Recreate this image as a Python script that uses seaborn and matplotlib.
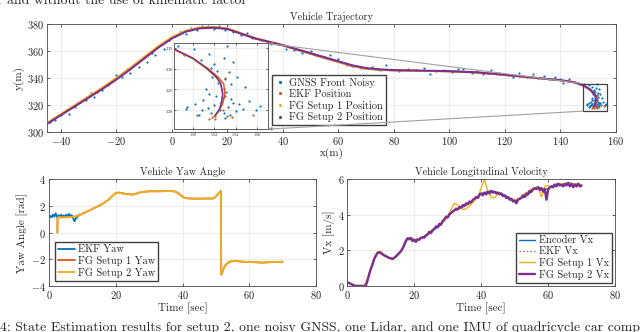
import matplotlib
matplotlib.use("Agg")
import matplotlib.pyplot as plt
import seaborn as sns
from matplotlib.patches import Rectangle, ConnectionPatch
from matplotlib.lines import Line2D

# ---- data ----
# trajectory (x, y) in metres
fg2_x = [-45, -40, -35, -30, -25, -20, -15, -10, -5, 0, 5, 10, 15, 20, 25, 30, 35, 40, 45,
         50, 55, 60, 65, 70, 75, 80, 90, 100, 110, 120, 130, 140, 145, 148.3, 150, 151.3,
         152.2, 152.6, 152.8, 152.7, 152.5, 152.1]
fg2_y = [306, 312.5, 319, 325.5, 332, 339, 346.5, 354.5, 362.5, 369.5, 374.5, 377, 377.5,
         376.5, 373, 369.5, 367, 364.5, 361.5, 358.5, 355.5, 352.5, 349.5, 347.5, 346.5, 346,
         345.6, 345.2, 344.3, 342.5, 340.5, 338.5, 337, 334.6, 332.5, 330.1, 328, 326.5, 324,
         322, 320.3, 318.8]
fg1_y = [306.8, 313.4, 320, 326.6, 333.2, 340.3, 347.8, 355.8, 363.7, 370.5, 375.4, 377.8,
         378.1, 377, 373.4, 369.8, 367.2, 364.6, 361.5, 358.4, 355.3, 352.2, 349.1, 347.1,
         346.2, 345.8, 345.4, 345.1, 344.2, 342.4, 340.4, 338.4, 336.9, 334.5, 332.3, 329.9,
         327.8, 326.3, 323.8, 321.8, 320.1, 318.6]
ekf_x = [-45, -40, -35, -30, -25, -20, -15, -10, -5, 0, 5, 10, 15, 20, 25, 30, 35, 40, 45,
         50, 55, 60, 65, 70, 75, 80, 90, 100, 110, 120, 130, 140, 145, 148.3, 150, 151.4,
         152.4, 152.9, 153.0, 152.8, 152.4, 151.8]
ekf_y = [306.3, 312.9, 319.4, 325.9, 332.5, 339.6, 347.1, 355.1, 363.1, 370.1, 375.0, 377.4,
         377.8, 376.7, 373.1, 369.4, 366.8, 364.2, 361.1, 358.0, 354.9, 351.9, 348.9, 346.9,
         346.1, 345.7, 345.4, 345.0, 344.1, 342.3, 340.3, 338.3, 336.8, 334.5, 332.4, 330.0,
         327.9, 326.3, 323.8, 321.6, 319.6, 318.1]
ekf_pts_x = [153.2, 153.7, 152.1, 151.5, 155.6, 152.8, 153.0, 152.9, 153.0]
ekf_pts_y = [318.6, 318.3, 318.0, 317.9, 319.0, 320.0, 327.8, 325.0, 323.5]

gnss_x = [-44, -42, -40, -38, -37, -35, -33, -31, -29, -28, -27, -25, -23, -21, -20, -18,
          -16, -15, -13, -12, -10, -9, -7, -6, -4, -3, -1, 1, 3, 5, 7, 9, 11, 13, 15, 17, 19,
          22, 25, 27, 29, 32, 35, 38, 41, 44, 47, 50, 52, 55, 57, 60, 63, 65, 68, 72, 75, 77,
          82, 85, 88, 91, 93, 95, 98, 101, 103, 105, 108, 110, 112, 115, 118, 121, 123, 125,
          128, 130, 132, 134, 136, 138, 140, 141, 143, 145, 147,
          148.6, 149.2, 150.1, 150.8, 151.5, 152.0, 153.2, 152.9, 153.8, 151.7, 152.3, 153.4,
          151.8, 153.0, 154.1, 152.4, 153.6, 151.2, 153.1, 154.9, 152.2, 153.6, 151.0, 150.2,
          149.5, 149.4, 150.6, 151.4, 152.0, 152.5, 152.9, 153.3, 153.8, 154.3, 154.7, 155.3,
          155.9, 156.3, 152.1, 153.0, 151.7, 152.6, 150.9, 153.5, 154.0, 152.8, 151.5, 150.4]
gnss_y = [307.5, 309, 313, 316, 313.5, 318.5, 322, 324, 329, 326, 330, 331, 335, 339, 342,
          341, 347, 344, 351, 348, 356, 352, 359, 357.5, 365, 362, 368.5, 371, 374.5, 373,
          377.5, 376, 379, 378.5, 376.5, 378.5, 375.5, 374.5, 372, 373.5, 370, 368, 366.5,
          365, 362, 361, 358.5, 360.5, 357, 355.5, 357.5, 354, 350, 349, 347.5, 348.5, 346,
          349.5, 345.5, 347, 346, 347.5, 343, 345, 346, 344.5, 346.5, 347, 344, 345.5, 343,
          346, 344, 342, 341, 343.5, 341, 343, 340, 341.5, 339.5, 340.5, 339, 336.5, 339.5,
          337.5, 336,
          335.5, 333.2, 334.6, 332.0, 333.4, 331.2, 335.3, 332.6, 331.6, 330.2, 329.5, 329.2,
          328.0, 327.4, 327.9, 326.6, 326.3, 325.1, 324.3, 325.6, 323.5, 322.6, 322.4, 321.6,
          320.7, 320.3, 319.0, 320.6, 321.2, 320.0, 319.4, 320.8, 321.8, 321.5, 320.4, 322.2,
          320.2, 321.0, 318.6, 318.2, 319.4, 321.9, 320.2, 319.0, 319.9, 323.0, 323.8, 318.8]

# yaw angle [rad]
ekf_yaw_t = [0, 0.4, 0.8, 1.2, 1.6, 2.0, 2.4, 2.8, 3.2, 3.6, 4.0, 4.4, 4.8, 5.2, 5.6, 6.0,
             6.4, 6.8, 7.2, 7.6, 8.0, 8.4, 8.8, 9.2]
ekf_yaw = [1.1, 1.25, 1.15, 1.35, 1.2, 1.45, 1.15, 1.3, 1.2, 1.35, 1.15, 1.3, 1.2, 1.35, 1.2,
           1.4, 1.25, 1.3, 1.1, 0.85, 1.05, 1.15, 1.3, 1.35]
fg_yaw_t = [2.5, 2.55, 3, 5, 7, 8, 9, 10, 12, 14, 16, 18, 19, 20, 21, 22, 23, 24, 25, 26, 27,
            28, 30, 33, 36, 37.5, 38.5, 39.5, 40.5, 41.5, 43, 46, 49, 49.8, 50.5, 51.2, 51.5,
            51.6, 52, 52.5, 53, 54, 55, 56, 57, 58, 60, 62, 64, 66, 68, 70]
fg1_yaw = [0.0, 1.15, 1.15, 1.15, 1.18, 1.22, 1.3, 1.42, 1.65, 1.9, 2.15, 2.5, 2.75, 2.97,
           3.0, 2.95, 2.9, 2.88, 2.85, 2.9, 3.0, 3.05, 3.1, 3.1, 3.12, 3.1, 3.0, 2.8, 2.62,
           2.57, 2.55, 2.55, 2.56, 2.65, 2.85, 3.05, 3.12, -3.15, -2.9, -2.6, -2.4, -2.2,
           -2.12, -2.12, -2.15, -2.18, -2.2, -2.22, -2.25, -2.22, -2.2, -2.18]
fg2_yaw = [0.0, 1.15, 1.15, 1.15, 1.18, 1.22, 1.3, 1.42, 1.66, 1.91, 2.16, 2.5, 2.76, 2.98,
           3.0, 2.94, 2.9, 2.87, 2.86, 2.92, 3.01, 3.05, 3.1, 3.1, 3.11, 3.1, 2.98, 2.78,
           2.61, 2.57, 2.55, 2.55, 2.57, 2.66, 2.86, 3.05, 3.12, -3.15, -2.88, -2.58, -2.38,
           -2.18, -2.11, -2.12, -2.16, -2.18, -2.21, -2.22, -2.24, -2.21, -2.2, -2.18]

# longitudinal velocity [m/s]
vx_t = list(range(71))
enc_vx = [0.2, 0.12, 0.03, 0.0, 0.0, 0.0, 0.3, 0.95, 1.5, 1.85,
          1.85, 1.72, 1.62, 1.55, 1.58, 1.75, 1.95, 2.3, 2.68, 2.7,
          2.6, 2.62, 2.7, 2.72, 2.9, 2.98, 3.2, 3.3, 3.45, 3.75,
          3.85, 4.1, 4.25, 4.3, 4.4, 4.5, 4.6, 4.7, 4.9, 4.95,
          5.2, 5.25, 5.3, 5.35, 5.3, 5.25, 5.2, 5.1, 5.0, 4.9,
          4.8, 4.85, 4.95, 5.0, 5.15, 5.3, 5.5, 5.55, 5.5, 5.45,
          5.45, 5.6, 5.7, 5.75, 5.7, 5.75, 5.8, 5.75, 5.7, 5.75, 5.65]
ekf_vx = [0.2, 0.12, 0.03, 0.0, 0.0, 0.0, 0.32, 0.97, 1.52, 1.86,
          1.86, 1.73, 1.63, 1.56, 1.6, 1.76, 1.97, 2.32, 2.66, 2.68,
          2.6, 2.63, 2.71, 2.74, 2.91, 3.0, 3.2, 3.32, 3.47, 3.74,
          3.86, 4.1, 4.24, 4.31, 4.41, 4.5, 4.61, 4.72, 4.9, 4.96,
          5.18, 5.24, 5.3, 5.34, 5.3, 5.24, 5.19, 5.1, 5.0, 4.91,
          4.82, 4.86, 4.96, 5.02, 5.16, 5.3, 5.48, 5.54, 5.5, 5.46,
          5.46, 5.6, 5.69, 5.74, 5.71, 5.74, 5.78, 5.74, 5.71, 5.73, 5.66]
fg1_vx = [0.2, 0.1, 0.02, 0.0, 0.0, 0.0, 0.35, 1.0, 1.55, 1.9,
          1.95, 1.75, 1.65, 1.55, 1.6, 1.75, 1.95, 2.3, 2.65, 2.7,
          2.55, 2.6, 2.7, 2.8, 2.95, 3.1, 3.25, 3.4, 3.55, 3.65,
          3.9, 4.3, 4.65, 4.55, 4.35, 4.3, 4.4, 4.6, 4.8, 5.0,
          5.5, 6.0, 5.3, 5.0, 4.95, 5.2, 5.15, 5.05, 4.95, 4.85,
          4.85, 4.9, 5.0, 5.2, 5.3, 5.45, 5.5, 5.6, 5.0, 5.6,
          5.65, 5.55, 5.6, 5.7, 5.75, 5.7, 5.8, 5.7, 5.75, 5.7, 5.7]
fg2_vx_t = [i * 0.5 for i in range(141)]
fg2_vx = [0.2, 0.18, 0.12, 0.08, 0.03, 0.0, 0.02, 0.0, 0.01, 0.0, 0.0, 0.0, 0.3, 0.65, 0.95,
          1.2, 1.5, 1.7, 1.85, 1.9, 1.85, 1.78, 1.72, 1.68, 1.62, 1.58, 1.55, 1.52, 1.58,
          1.65, 1.75, 1.85, 1.95, 2.1, 2.3, 2.55, 2.68, 2.62, 2.7, 2.52, 2.6, 2.48, 2.62,
          2.6, 2.7, 2.75, 2.72, 2.85, 2.9, 3.05, 2.98, 3.15, 3.2, 3.35, 3.3, 3.5, 3.45, 3.65,
          3.75, 3.9, 3.85, 4.05, 4.1, 4.2, 4.25, 4.35, 4.3, 4.45, 4.4, 4.55, 4.5, 4.65, 4.6,
          4.75, 4.7, 4.85, 4.9, 5.0, 4.95, 5.15, 5.2, 5.1, 5.25, 5.15, 5.3, 5.2, 5.35, 5.25,
          5.3, 5.2, 5.25, 5.15, 5.2, 5.05, 5.1, 4.95, 5.0, 4.85, 4.9, 4.75, 4.8, 4.65, 4.85,
          4.9, 4.95, 5.1, 5.0, 5.2, 5.15, 5.35, 5.3, 5.45, 5.5, 5.45, 5.55, 5.4, 5.5, 5.3,
          5.45, 4.85, 5.4, 5.55, 5.6, 5.55, 5.7, 5.6, 5.75, 5.65, 5.7, 5.6, 5.75, 5.65, 5.8,
          5.6, 5.75, 5.55, 5.7, 5.6, 5.75, 5.6, 5.65]

BLUE, ORANGE, YELLOW, PURPLE = "#0072BD", "#D95319", "#EDB120", "#7E2F8E"

sns.set_style("whitegrid", {"grid.color": "#e3e3e3", "axes.edgecolor": "#4a4a4a"})
plt.rcParams.update({
    "font.family": ["cmr10", "DejaVu Serif"],
    "mathtext.fontset": "cm",
    "axes.formatter.use_mathtext": True,
    "axes.unicode_minus": False,
    "axes.linewidth": 0.6,
    "grid.linewidth": 0.5,
    "legend.fancybox": False,
    "legend.framealpha": 1,
    "legend.edgecolor": "#404040",
})


def style_axes(ax, size=7.5):
    ax.tick_params(direction="in", length=2.5, width=0.5, labelsize=size, pad=2,
                   bottom=True, left=True, top=True, right=True, colors="#222222")
    for s in ax.spines.values():
        s.set_color("#4a4a4a")
        s.set_linewidth(0.6)


fig = plt.figure(figsize=(6.4, 3.32), dpi=100)

# ---- vehicle trajectory ----
ax = fig.add_axes([0.0734, 0.6024, 0.8891, 0.3244])


def draw_traj(a, lw):
    sns.scatterplot(x=gnss_x, y=gnss_y, s=2.5, color=BLUE, linewidth=0, ax=a, legend=False,
                    zorder=2)
    sns.scatterplot(x=ekf_pts_x, y=ekf_pts_y, s=2.5, color=ORANGE, linewidth=0, ax=a,
                    legend=False, zorder=2)
    sns.lineplot(x=ekf_x, y=ekf_y, sort=False, estimator=None, color=ORANGE, lw=lw, ax=a,
                 zorder=3)
    sns.lineplot(x=fg2_x, y=fg1_y, sort=False, estimator=None, color=YELLOW, lw=lw, ax=a,
                 zorder=4)
    sns.lineplot(x=fg2_x, y=fg2_y, sort=False, estimator=None, color=PURPLE, lw=lw * 1.15,
                 ax=a, zorder=5)


draw_traj(ax, 1.3)
ax.set_xlim(-45, 160)
ax.set_ylim(300, 380)
ax.set_xticks(range(-40, 161, 20))
ax.set_yticks(range(300, 381, 20))
style_axes(ax)
ax.set_title("Vehicle Trajectory", fontsize=7.3, pad=3)
ax.set_xlabel("x(m)", fontsize=8, labelpad=1)
ax.set_ylabel("y(m)", fontsize=8, labelpad=2)
ax.add_patch(Rectangle((148, 315.5), 8.9, 20.5, fill=False, ec="#404040", lw=0.9, zorder=6))

handles = [Line2D([], [], ls="none", marker=".", ms=2.5, color=c)
           for c in (BLUE, ORANGE, YELLOW, PURPLE)]
ax.legend(handles, ["GNSS Front Noisy", "EKF Position", "FG Setup 1 Position",
                    "FG Setup 2 Position"], loc="upper left", bbox_to_anchor=(0.395, 0.53),
          fontsize=7.5, handlelength=1.0, handletextpad=0.4, borderpad=0.3, labelspacing=0.15,
          borderaxespad=0)

# zoom inset
axin = fig.add_axes([0.272, 0.611, 0.147, 0.258])
draw_traj(axin, 1.0)
axin.set_xlim(148.25, 157.05)
axin.set_ylim(315.5, 336)
axin.set_xticks([150, 152, 154, 156])
axin.set_yticks([320, 325, 330, 335])
style_axes(axin, size=3)
axin.tick_params(length=1.5, pad=1)
axin.set_facecolor("white")

for ya, yb in ((336, 1), (315.5, 0)):
    con = ConnectionPatch(xyA=(148, ya), coordsA=ax.transData, xyB=(1, yb),
                          coordsB=axin.transAxes, arrowstyle="-|>", mutation_scale=5,
                          color="#a0a0a0", lw=0.8, zorder=6)
    con.set_facecolor("black")
    fig.add_artist(con)

# ---- yaw angle ----
ax2 = fig.add_axes([0.0766, 0.1386, 0.4172, 0.3214])
sns.lineplot(x=ekf_yaw_t, y=ekf_yaw, color=BLUE, lw=1.3, ax=ax2, label="EKF Yaw")
sns.lineplot(x=fg_yaw_t, y=fg1_yaw, color=ORANGE, lw=1.3, ax=ax2, label="FG Setup 1 Yaw",
             sort=False, estimator=None)
sns.lineplot(x=fg_yaw_t, y=fg2_yaw, color=YELLOW, lw=1.3, ax=ax2, label="FG Setup 2 Yaw",
             sort=False, estimator=None)
ax2.set_xlim(0, 80)
ax2.set_ylim(-4, 4)
ax2.set_xticks(range(0, 81, 20))
ax2.set_yticks(range(-4, 5, 2))
style_axes(ax2)
ax2.set_title("Vehicle Yaw Angle", fontsize=7.3, pad=3)
ax2.set_xlabel("Time [sec]", fontsize=8, labelpad=1)
ax2.set_ylabel("Yaw Angle [rad]", fontsize=8, labelpad=2)
ax2.legend(loc="lower left", bbox_to_anchor=(0.0225, 0.05), fontsize=7.5, handlelength=1.6,
           handletextpad=0.3, borderpad=0.3, labelspacing=0.15, borderaxespad=0)

# ---- longitudinal velocity ----
ax3 = fig.add_axes([0.5427, 0.1386, 0.4183, 0.3214])
sns.lineplot(x=vx_t, y=enc_vx, color=BLUE, lw=1.0, ax=ax3, label="Encoder Vx")
sns.lineplot(x=vx_t, y=ekf_vx, color=ORANGE, lw=1.0, ls=":", ax=ax3, label="EKF Vx")
sns.lineplot(x=vx_t, y=fg1_vx, color=YELLOW, lw=1.0, ax=ax3, label="FG Setup 1 Vx")
sns.lineplot(x=fg2_vx_t, y=fg2_vx, color=PURPLE, lw=1.7, ax=ax3, label="FG Setup 2 Vx")
ax3.set_xlim(0, 80)
ax3.set_ylim(0, 6)
ax3.set_xticks(range(0, 81, 20))
ax3.set_yticks(range(0, 7, 2))
style_axes(ax3)
ax3.set_title("Vehicle Longitudinal Velocity", fontsize=7.3, pad=3)
ax3.set_xlabel("Time [sec]", fontsize=8, labelpad=1)
ax3.set_ylabel("Vx [m/s]", fontsize=8, labelpad=2)
ax3.legend(loc="lower right", bbox_to_anchor=(0.988, 0.031), fontsize=7.5, handlelength=1.6,
           handletextpad=0.3, borderpad=0.3, labelspacing=0.15, borderaxespad=0)

# surrounding page text, cut by the crop
fig.text(-0.004, 1 - 4 / 332, "r and without the use of kinematic factor", fontsize=9.9,
         va="baseline", ha="left")
fig.text(0.0, 0.5 / 332, "4: State Estimation results for setup 2, one noisy GNSS, one "
         "Lidar, and one IMU of quadricycle car compa", fontsize=9.9, va="baseline",
         ha="left")

fig.savefig("out.png", dpi=100)
